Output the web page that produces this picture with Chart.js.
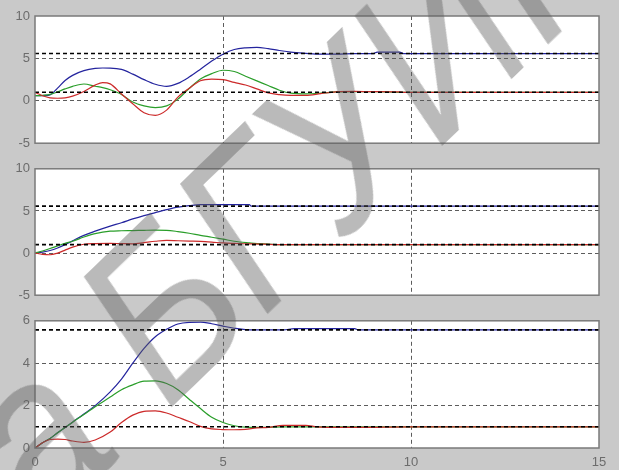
<!DOCTYPE html>
<html>
<head>
<meta charset="utf-8">
<script src="https://cdn.jsdelivr.net/npm/chart.js@4/dist/chart.umd.min.js"></script>
<style>
  html, body { margin: 0; padding: 0; background: #c9c9c9; overflow: hidden; }
  #wrap { position: relative; width: 619px; height: 470px; overflow: hidden; }
  #wrap canvas { position: absolute; left: 0; }
  #wm {
    position: absolute; left: 288px; top: 185px;
    font: italic 205px "Liberation Sans", Arial, sans-serif;
    color: rgba(90, 90, 90, 0.42);
    white-space: nowrap; pointer-events: none; line-height: 1;
    transform: translate(-50%, -50%) rotate(-44deg) scaleY(1.1);
  }
</style>
</head>
<body>
<div id="wrap">
  <canvas id="c1" width="619" height="156" style="top:0"></canvas>
  <canvas id="c2" width="619" height="152" style="top:156px"></canvas>
  <canvas id="c3" width="619" height="162" style="top:308px"></canvas>
  <div id="wm">а БГУИР</div>
</div>
<script>
// Time axis and reference levels shared by all three scopes
const xTicks = [0, 5, 10, 15];
const refLevels = [5.57, 1.0];

// Scope 1
const t1 = [0, 0.2, 0.4, 0.6, 0.8, 1.0, 1.3, 1.6, 1.8, 2.0, 2.3, 2.6, 2.9, 3.2, 3.5, 3.8, 4.1, 4.4, 4.7, 5.0,
            5.3, 5.6, 5.9, 6.2, 6.5, 6.8, 7.2, 7.6, 8.0, 8.5, 9.0, 9.1, 9.7, 9.8, 10.2, 11, 12, 15];
const blue1 = [0.6, 0.6, 0.7, 1.5, 2.4, 3.0, 3.55, 3.82, 3.87, 3.86, 3.7, 3.15, 2.5, 1.95, 1.7, 2.05, 2.8, 3.72, 4.69, 5.5,
               6.05, 6.25, 6.3, 6.15, 5.93, 5.74, 5.6, 5.5, 5.5, 5.57, 5.57, 5.75, 5.75, 5.57, 5.57, 5.57, 5.57, 5.57];
const green1 = [0.6, 0.65, 0.75, 1.05, 1.4, 1.7, 1.98, 1.72, 1.55, 1.3, 0.75, -0.15, -0.6, -0.8, -0.6, 0.2, 1.45, 2.56, 3.2, 3.6,
                3.45, 2.9, 2.35, 1.8, 1.25, 0.9, 0.82, 0.9, 1.05, 1.08, 1.08, 1.08, 1.0, 1.0, 1.0, 1.0, 1.0, 1.0];
const red1 = [1.0, 0.6, 0.35, 0.3, 0.35, 0.55, 1.1, 1.85, 2.15, 2.0, 0.8, -0.35, -1.4, -1.72, -1.1, 0.43, 1.47, 2.36, 2.56, 2.5,
              2.17, 1.86, 1.4, 0.93, 0.73, 0.65, 0.65, 0.85, 1.05, 1.1, 1.08, 1.08, 1.05, 1.0, 1.0, 1.0, 1.0, 1.0];
const yTicks1 = [-5, 0, 5, 10];

// Scope 2
const t2 = [0, 0.2, 0.4, 0.6, 0.8, 1.0, 1.3, 1.6, 2.0, 2.3, 2.6, 2.9, 3.2, 3.5, 3.8, 4.1, 4.4, 4.7, 5.0, 5.3,
            5.7, 5.75, 6.1, 6.5, 7, 8, 10, 15];
const blue2 = [0, 0.12, 0.3, 0.6, 1.0, 1.45, 2.1, 2.6, 3.2, 3.6, 4.05, 4.45, 4.8, 5.15, 5.45, 5.62, 5.75, 5.76, 5.76, 5.76,
               5.76, 5.57, 5.57, 5.57, 5.57, 5.57, 5.57, 5.57];
const green2 = [0, 0.25, 0.54, 0.85, 1.15, 1.4, 1.9, 2.3, 2.6, 2.65, 2.67, 2.7, 2.72, 2.7, 2.55, 2.35, 2.1, 1.88, 1.65, 1.4,
                1.2, 1.18, 1.08, 1.0, 1.0, 1.0, 1.0, 1.0];
const red2 = [0, -0.15, -0.2, 0.0, 0.35, 0.7, 1.05, 1.12, 1.15, 1.12, 1.1, 1.25, 1.4, 1.5, 1.46, 1.42, 1.38, 1.3, 1.2, 1.15,
              1.1, 1.1, 1.05, 1.0, 1.0, 1.0, 1.0, 1.0];
const yTicks2 = [-5, 0, 5, 10];

// Scope 3
const t3 = [0, 0.2, 0.4, 0.6, 0.8, 1.0, 1.3, 1.6, 2.0, 2.3, 2.6, 2.9, 3.2, 3.5, 3.8, 4.1, 4.4, 4.7, 5.0, 5.3,
            5.6, 5.9, 6.2, 6.6, 6.9, 7.2, 7.5, 8.0, 8.5, 8.6, 10, 15];
const blue3 = [0, 0.25, 0.45, 0.72, 0.97, 1.22, 1.6, 2.0, 2.65, 3.25, 4.0, 4.7, 5.25, 5.6, 5.85, 5.93, 5.94, 5.86, 5.75, 5.65,
               5.58, 5.57, 5.57, 5.57, 5.63, 5.63, 5.63, 5.63, 5.63, 5.57, 5.57, 5.57];
const green3 = [0, 0.25, 0.45, 0.72, 0.97, 1.22, 1.58, 1.95, 2.4, 2.75, 2.98, 3.15, 3.17, 3.04, 2.75, 2.3, 1.86, 1.45, 1.2, 1.05,
                0.98, 0.97, 0.98, 1.0, 1.0, 1.0, 1.0, 1.0, 1.0, 1.0, 1.0, 1.0];
const red3 = [0, 0.25, 0.4, 0.42, 0.4, 0.33, 0.27, 0.38, 0.75, 1.2, 1.55, 1.73, 1.75, 1.65, 1.45, 1.25, 1.02, 0.9, 0.87, 0.86,
              0.88, 0.95, 0.97, 1.07, 1.07, 1.07, 1.0, 0.97, 0.97, 0.97, 1.0, 1.0];
const yTicks3 = [0, 2, 4, 6];

const COLORS = { blue: '#24249e', green: '#2a9e2a', red: '#cc2a2a', ref: '#000000' };
const TICK_FONT = { family: '"Liberation Sans", Arial, sans-serif', size: 13 };
const TICK_COLOR = '#6c6c6c';
const GRID_COLOR = '#5c5c5c';

const pts = (t, v) => t.map((x, i) => ({ x, y: v[i] }));

function curve(t, v, color) {
  return {
    data: pts(t, v), borderColor: color, borderWidth: 1.2,
    pointRadius: 0, cubicInterpolationMode: 'monotone', fill: false
  };
}

function refLine(level) {
  return {
    data: [{ x: xTicks[0], y: level }, { x: xTicks[xTicks.length - 1], y: level }],
    borderColor: COLORS.ref, borderWidth: 1.6, borderDash: [4, 3],
    pointRadius: 0, fill: false
  };
}

// White plot area underneath, grey frame on top
const framePlugin = {
  id: 'frame',
  beforeDraw(chart) {
    const a = chart.chartArea, ctx = chart.ctx;
    ctx.save();
    ctx.fillStyle = '#ffffff';
    ctx.fillRect(a.left, a.top, a.right - a.left, a.bottom - a.top);
    ctx.restore();
  },
  afterDraw(chart) {
    const a = chart.chartArea, ctx = chart.ctx;
    ctx.save();
    ctx.strokeStyle = '#7a7a7a';
    ctx.lineWidth = 1.5;
    ctx.strokeRect(a.left, a.top, a.right - a.left, a.bottom - a.top);
    ctx.restore();
  }
};

function innerGrid(ticks) {
  const lo = ticks[0], hi = ticks[ticks.length - 1];
  return (c) => (c.tick && (c.tick.value === lo || c.tick.value === hi)) ? 'rgba(0,0,0,0)' : GRID_COLOR;
}

function scope(id, t, blue, green, red, yTicks, padTop, xHeight, showX) {
  new Chart(document.getElementById(id), {
    type: 'line',
    data: {
      datasets: [
        refLine(refLevels[0]), refLine(refLevels[1]),
        curve(t, red, COLORS.red), curve(t, green, COLORS.green), curve(t, blue, COLORS.blue)
      ]
    },
    options: {
      responsive: false, animation: false, events: [],
      layout: { padding: { top: padTop, right: 20, bottom: 0, left: 0 } },
      plugins: { legend: { display: false }, tooltip: { enabled: false } },
      scales: {
        x: {
          type: 'linear', min: xTicks[0], max: xTicks[xTicks.length - 1],
          afterBuildTicks: (s) => { s.ticks = xTicks.map(v => ({ value: v })); },
          ticks: { display: showX, color: TICK_COLOR, font: TICK_FONT, padding: 7, maxRotation: 0 },
          grid: { color: innerGrid(xTicks), drawTicks: false, lineWidth: 1 },
          border: { display: false, dash: [4, 3] },
          afterFit: (s) => { s.height = xHeight; }
        },
        y: {
          type: 'linear', min: yTicks[0], max: yTicks[yTicks.length - 1],
          afterBuildTicks: (s) => { s.ticks = yTicks.map(v => ({ value: v })); },
          ticks: { color: TICK_COLOR, font: TICK_FONT, padding: 5 },
          grid: { color: innerGrid(yTicks), drawTicks: false, lineWidth: 1 },
          border: { display: false, dash: [4, 3] },
          afterFit: (s) => { s.width = 35; }
        }
      }
    },
    plugins: [framePlugin]
  });
}

scope('c1', t1, blue1, green1, red1, yTicks1, 16, 11, false);
scope('c2', t2, blue2, green2, red2, yTicks2, 11, 11, false);
scope('c3', t3, blue3, green3, red3, yTicks3, 10, 22, true);
</script>
</body>
</html>
